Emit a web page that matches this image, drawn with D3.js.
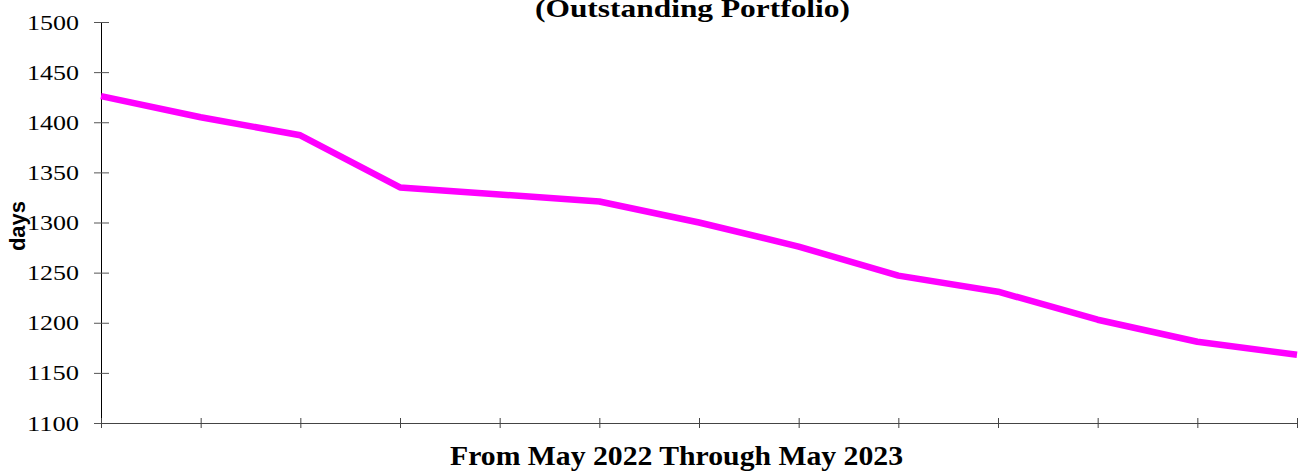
<!DOCTYPE html>
<html>
<head>
<meta charset="utf-8">
<script src="https://cdn.jsdelivr.net/npm/d3@7"></script>
<style>
  html, body { margin: 0; padding: 0; background: #fff; }
  svg { display: block; }
</style>
</head>
<body>
<script>
const months = ["May 2022","Jun 2022","Jul 2022","Aug 2022","Sep 2022","Oct 2022","Nov 2022","Dec 2022","Jan 2023","Feb 2023","Mar 2023","Apr 2023","May 2023"];
const days = [1426, 1405, 1387, 1335, 1328, 1321, 1300, 1276, 1247, 1231, 1203, 1181, 1168];
const yTicks = [1100, 1150, 1200, 1250, 1300, 1350, 1400, 1450, 1500];
const titleText = "(Outstanding Portfolio)";
const xTitle = "From May 2022 Through May 2023";
const yTitle = "days";

const W = 1300, H = 472;
const m = {left: 101, right: 3, top: 22, bottom: 49};

const svg = d3.select("body").append("svg").attr("width", W).attr("height", H);

const x = d3.scalePoint().domain(months).range([m.left, W - m.right]);
const y = d3.scaleLinear().domain([1100, 1500]).range([H - m.bottom, m.top]);

// y axis
const yAxis = svg.append("g").attr("transform", `translate(${m.left},0)`)
  .call(d3.axisLeft(y).tickValues(yTicks).tickFormat(d3.format("d"))
    .tickSizeInner(7).tickSizeOuter(0).tickPadding(15));
yAxis.select(".domain").attr("stroke", "#000");
yAxis.selectAll(".tick line").attr("stroke", "#555").attr("x2", 8).attr("x1", -7);
yAxis.selectAll(".tick text")
  .attr("font-family", "'Liberation Serif', 'Times New Roman', serif")
  .attr("font-size", 22).attr("fill", "#000")
  .attr("x", -22)
  .attr("textLength", 52).attr("lengthAdjust", "spacingAndGlyphs");

// x axis
const xAxis = svg.append("g").attr("transform", `translate(0,${H - m.bottom})`)
  .call(d3.axisBottom(x).tickSizeOuter(0).tickFormat(""));
xAxis.select(".domain").attr("stroke", "#444");
xAxis.selectAll(".tick line").attr("stroke", "#444").attr("y1", -5).attr("y2", 5);

// line
const line = d3.line().x((d, i) => x(months[i])).y(d => y(d));
svg.append("path").datum(days)
  .attr("d", line)
  .attr("fill", "none")
  .attr("stroke", "#FF00FF")
  .attr("stroke-width", 6.5)
  .attr("stroke-linejoin", "round");

// title
svg.append("text").attr("x", 692.5).attr("y", 17)
  .attr("text-anchor", "middle")
  .attr("font-family", "'Liberation Serif', 'Times New Roman', serif")
  .attr("font-weight", "bold").attr("font-size", 26)
  .attr("textLength", 315).attr("lengthAdjust", "spacingAndGlyphs")
  .text(titleText);

// x title
svg.append("text").attr("x", 676.5).attr("y", 465)
  .attr("text-anchor", "middle")
  .attr("font-family", "'Liberation Serif', 'Times New Roman', serif")
  .attr("font-weight", "bold").attr("font-size", 27)
  .attr("textLength", 453).attr("lengthAdjust", "spacingAndGlyphs")
  .text(xTitle);

// y title
svg.append("text")
  .attr("transform", "translate(25,226) rotate(-90)")
  .attr("text-anchor", "middle")
  .attr("font-family", "'Liberation Sans', Arial, sans-serif")
  .attr("font-weight", "bold").attr("font-size", 22)
  .text(yTitle);
</script>
</body>
</html>
